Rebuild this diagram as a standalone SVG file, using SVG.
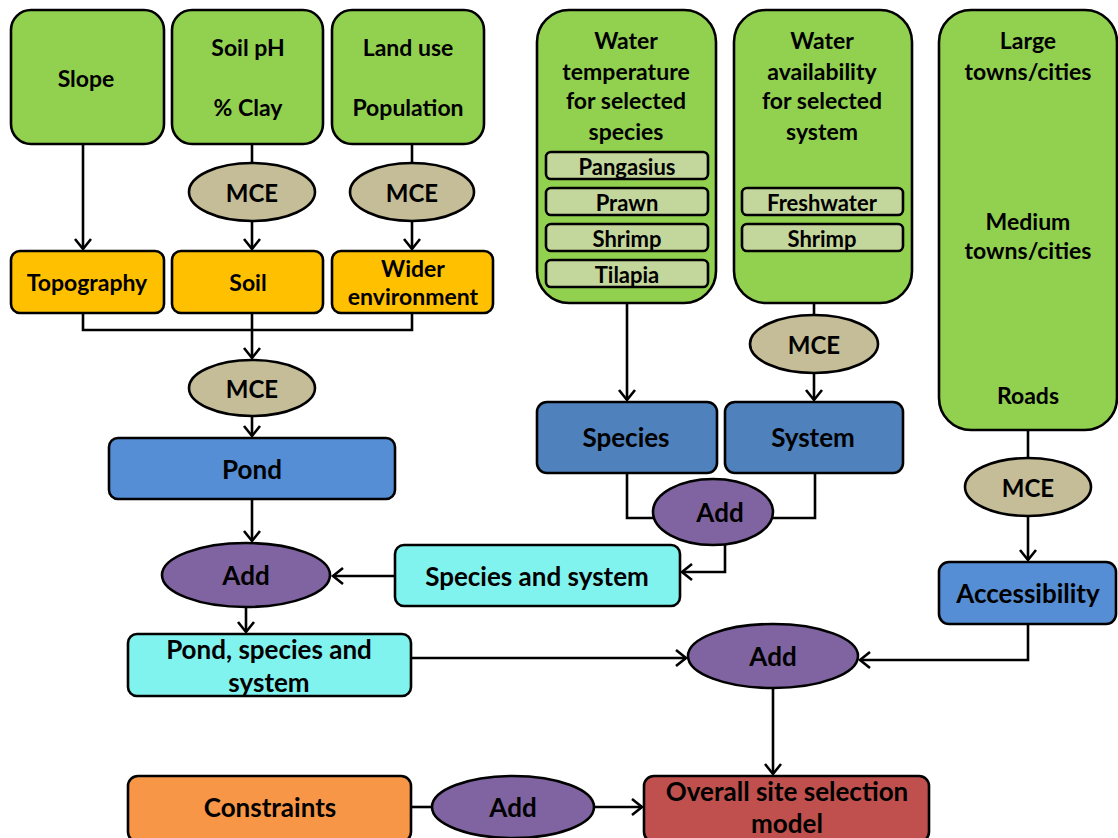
<svg xmlns="http://www.w3.org/2000/svg" width="1118" height="838" viewBox="0 0 1118 838">
<defs>
<style>
.b{stroke:#000;stroke-width:2.6}
.g{fill:#92D050}
.o{fill:#FFC000}
.m{fill:#C4BD97}
.bl{fill:#558ED5}
.bd{fill:#4F81BD}
.c{fill:#81F3EF}
.p{fill:#8064A2}
.sb{fill:#C3D69B}
.co{fill:#F79646}
.rd{fill:#C0504D}
text{font-family:Lato,"Open Sans","Liberation Sans",sans-serif;font-weight:bold;fill:#000;text-anchor:middle;dominant-baseline:central}
.t20{font-size:23px}
.t22{font-size:26px}
.t24{font-size:24px}
.t19{font-size:22px}
.ln{fill:none;stroke:#000;stroke-width:2.6}
</style>
<marker id="ar" markerUnits="userSpaceOnUse" markerWidth="22" markerHeight="22" viewBox="-12 -11 22 22" refX="0" refY="0" orient="auto">
<path d="M-10,-8 L0,0 L-10,8" fill="none" stroke="#000" stroke-width="2.6"/>
</marker>
</defs>
<rect width="1118" height="838" fill="#fff"/>

<g id="connectors">
<path class="ln" d="M83,144 V249" marker-end="url(#ar)"/>
<path class="ln" d="M252,144 V163"/>
<path class="ln" d="M252,221 V249" marker-end="url(#ar)"/>
<path class="ln" d="M412,144 V163"/>
<path class="ln" d="M412,221 V249" marker-end="url(#ar)"/>
<path class="ln" d="M83,313 V330 H412 V313 M252,313 V330"/>
<path class="ln" d="M252,330 V358" marker-end="url(#ar)"/>
<path class="ln" d="M252,416 V436" marker-end="url(#ar)"/>
<path class="ln" d="M252,499 V541" marker-end="url(#ar)"/>
<path class="ln" d="M395,576 H333" marker-end="url(#ar)"/>
<path class="ln" d="M246,607 V632" marker-end="url(#ar)"/>
<path class="ln" d="M627,303 V400" marker-end="url(#ar)"/>
<path class="ln" d="M814,303 V316"/>
<path class="ln" d="M814,373 V400" marker-end="url(#ar)"/>
<path class="ln" d="M627,473 V518 H654"/>
<path class="ln" d="M815,473 V518 H772"/>
<path class="ln" d="M725,544 V572 H682" marker-end="url(#ar)"/>
<path class="ln" d="M411,658 H686" marker-end="url(#ar)"/>
<path class="ln" d="M1028,430 V458"/>
<path class="ln" d="M1028,516 V560" marker-end="url(#ar)"/>
<path class="ln" d="M1028,624 V660 H860" marker-end="url(#ar)"/>
<path class="ln" d="M773,688 V774" marker-end="url(#ar)"/>
<path class="ln" d="M411,807 H432"/>
<path class="ln" d="M594,807 H642" marker-end="url(#ar)"/>
</g>

<g id="slope"><rect class="b g" x="11" y="10" width="153" height="134" rx="20"/><text class="t20" x="86" y="78">Slope</text></g>
<g id="soilph"><rect class="b g" x="172" y="10" width="151" height="134" rx="20"/><text class="t20" x="248" y="47">Soil pH</text><text class="t20" x="248" y="107">% Clay</text></g>
<g id="landuse"><rect class="b g" x="332" y="10" width="152" height="134" rx="20"/><text class="t20" x="408" y="47">Land use</text><text class="t20" x="408" y="107">Population</text></g>

<g id="mce-soil"><ellipse class="b m" cx="252" cy="192" rx="63" ry="29"/><text class="t24" x="252" y="192">MCE</text></g>
<g id="mce-land"><ellipse class="b m" cx="412" cy="192" rx="62" ry="29"/><text class="t24" x="412" y="192">MCE</text></g>

<g id="topography"><rect class="b o" x="11" y="251" width="153" height="62" rx="9"/><text class="t20" x="87" y="282">Topography</text></g>
<g id="soil"><rect class="b o" x="172" y="251" width="151" height="62" rx="9"/><text class="t20" x="248" y="282">Soil</text></g>
<g id="wider"><rect class="b o" x="332" y="251" width="161" height="62" rx="9"/><text class="t20" x="413" y="268">Wider</text><text class="t20" x="413" y="296">environment</text></g>

<g id="mce-pond"><ellipse class="b m" cx="252" cy="388" rx="63" ry="28"/><text class="t24" x="252" y="388">MCE</text></g>
<g id="pond"><rect class="b bl" x="109" y="438" width="286" height="61" rx="9"/><text class="t22" x="252" y="469">Pond</text></g>
<g id="add-left"><ellipse class="b p" cx="246" cy="575" rx="84" ry="32"/><text class="t22" x="246" y="575">Add</text></g>
<g id="species-and-system"><rect class="b c" x="395" y="545" width="285" height="61" rx="9"/><text class="t22" x="537" y="576">Species and system</text></g>
<g id="pond-species-system"><rect class="b c" x="128" y="634" width="283" height="62" rx="9"/><text class="t22" x="269" y="649">Pond, species and</text><text class="t22" x="269" y="682">system</text></g>

<g id="water-temp"><rect class="b g" x="537" y="10" width="179" height="293" rx="32"/>
<text class="t20" x="626" y="40">Water</text><text class="t20" x="626" y="71">temperature</text><text class="t20" x="626" y="100">for selected</text><text class="t20" x="626" y="131">species</text>
<rect class="b sb" x="546" y="152" width="162" height="27" rx="5"/><text class="t19" x="627" y="166">Pangasius</text>
<rect class="b sb" x="546" y="188" width="162" height="27" rx="5"/><text class="t19" x="627" y="202">Prawn</text>
<rect class="b sb" x="546" y="224" width="162" height="27" rx="5"/><text class="t19" x="627" y="238">Shrimp</text>
<rect class="b sb" x="546" y="260" width="162" height="27" rx="5"/><text class="t19" x="627" y="274">Tilapia</text>
</g>
<g id="water-avail"><rect class="b g" x="734" y="10" width="178" height="293" rx="32"/>
<text class="t20" x="822" y="40">Water</text><text class="t20" x="822" y="71">availability</text><text class="t20" x="822" y="100">for selected</text><text class="t20" x="822" y="131">system</text>
<rect class="b sb" x="742" y="188" width="161" height="27" rx="5"/><text class="t19" x="822" y="202">Freshwater</text>
<rect class="b sb" x="742" y="224" width="161" height="27" rx="5"/><text class="t19" x="822" y="238">Shrimp</text>
</g>
<g id="towns"><rect class="b g" x="939" y="10" width="178" height="420" rx="32"/>
<text class="t20" x="1028" y="40">Large</text><text class="t20" x="1028" y="71">towns/cities</text>
<text class="t20" x="1028" y="221">Medium</text><text class="t20" x="1028" y="250">towns/cities</text>
<text class="t20" x="1028" y="395">Roads</text>
</g>

<g id="mce-water"><ellipse class="b m" cx="814" cy="344" rx="64" ry="29"/><text class="t24" x="814" y="344">MCE</text></g>
<g id="species"><rect class="b bd" x="537" y="402" width="180" height="71" rx="10"/><text class="t22" x="626" y="437">Species</text></g>
<g id="system"><rect class="b bd" x="725" y="402" width="178" height="71" rx="10"/><text class="t22" x="813" y="437">System</text></g>
<g id="add-ss"><ellipse class="b p" cx="713" cy="512" rx="60" ry="33"/><text class="t22" x="720" y="512">Add</text></g>

<g id="mce-towns"><ellipse class="b m" cx="1028" cy="487" rx="63" ry="29"/><text class="t24" x="1028" y="487">MCE</text></g>
<g id="accessibility"><rect class="b bl" x="939" y="562" width="177" height="62" rx="10"/><text class="t22" x="1028" y="593">Accessibility</text></g>
<g id="add-right"><ellipse class="b p" cx="773" cy="656" rx="85" ry="32"/><text class="t22" x="773" y="656">Add</text></g>

<g id="constraints"><rect class="b co" x="128" y="776" width="283" height="66" rx="10"/><text class="t22" x="270" y="807">Constraints</text></g>
<g id="add-bottom"><ellipse class="b p" cx="513" cy="807" rx="81" ry="31"/><text class="t22" x="513" y="807">Add</text></g>
<g id="overall"><rect class="b rd" x="644" y="776" width="285" height="66" rx="10"/><text class="t22" x="787" y="791">Overall site selection</text><text class="t22" x="787" y="823">model</text></g>
</svg>
